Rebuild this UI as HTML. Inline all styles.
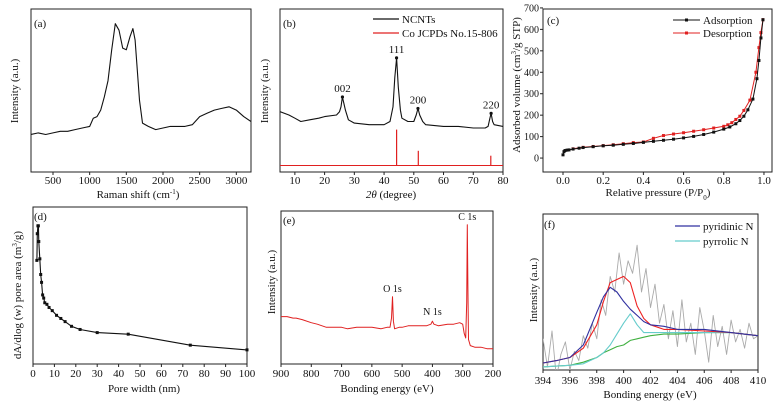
<!DOCTYPE html>
<html><head><meta charset="utf-8">
<style>
html,body{margin:0;padding:0;background:#fff;}
svg{display:block;font-family:"Liberation Serif",serif;}
</style></head>
<body>
<svg id="fig" width="777" height="401" viewBox="0 0 777 401" xmlns="http://www.w3.org/2000/svg"></svg>
<script>
// ---- data arrays ----
const ramanX=[200,300,400,500,600,700,800,900,1000,1050,1100,1150,1200,1250,1300,1350,1400,1450,1500,1550,1590,1620,1680,1720,1800,1900,2000,2100,2200,2300,2400,2500,2600,2700,2800,2900,3000,3100,3200];
const ramanY=[23,24,23,24,25,25,26,27,28,33,34,38,46,56,75,91,87,76,75,83,88,81,44,30,28,26,27,28,28,28,29,34,36,38,39,40,38,34,31];
const xrdX=[5,8,10,12,15,18,20,24,25,25.5,26,26.5,27,28,30,35,40,42,43,43.6,44.2,44.8,45.5,46,48,50,50.8,51.4,52,53,54,60,65,70,74,75,75.6,76,76.5,77,80];
const xrdY=[37,35,33,31,32,33,34,35,37,40,46,42,38,32,30,29,29,31,40,58,70,52,38,33,31,31,35,39,35,31,29,28,28,27,27,28,33,36,31,29,28];
const refX=[44.2,51.5,75.9];
const refY=[26,13,10];
const peakLabels=["002","111","200","220"];
const peakX=[26,44.2,51.4,76];
const peakY=[46,70,39,36];
const adsX=[0,0.005,0.01,0.02,0.03,0.05,0.08,0.1,0.15,0.2,0.25,0.3,0.35,0.4,0.45,0.5,0.55,0.6,0.65,0.7,0.75,0.8,0.83,0.86,0.88,0.9,0.92,0.945,0.965,0.975,0.985,0.995];
const adsY=[15,30,35,37,38,42,46,49,53,57,60,64,68,73,78,83,88,94,101,110,121,135,145,160,175,195,225,275,370,455,560,645];
const desX=[0.995,0.985,0.975,0.96,0.93,0.9,0.88,0.86,0.84,0.82,0.8,0.75,0.7,0.65,0.6,0.55,0.5,0.45,0.4,0.35,0.3,0.25,0.2,0.15,0.1,0.05];
const desY=[645,585,515,400,270,222,195,180,165,155,148,140,132,125,118,112,105,92,75,72,67,62,58,54,50,43];
const poreX=[1.8,2,2.3,2.5,2.7,3.2,3.6,4,4.5,5,5.5,6.5,7.5,9,11,13,15,18,22,30,44.5,73.5,100];
const poreY=[66,83,88,88,78,67,57,52,44,42,39,38,36,34,31,29,27,24,22,20,19,12,9];
const surveyX=[900,880,860,850,830,800,780,750,720,700,680,650,620,600,570,550,540,535,532,529,525,510,500,480,450,420,405,400,395,380,350,330,310,300,295,290,287,285,283,281,275,260,240,220,200];
const surveyY=[31,31,30,30,29,27,26,24,24,24,23,24,24,24,23,24,24,30,44,28,23,24,24,25,25,25,26,28,26,25,26,26,27,26,20,17,40,91,50,16,12,11,11,10,10];
const nX=[394,395,396,397,398,398.5,399,399.5,400,400.5,401,401.5,402,403,404,406,408,410];
const envY=[4.5,6,8,14,29,44,56,58,60,56,41,33,29,26,26,25,24,22];
const pyridY=[4.5,6,8,16,37,47,53,50,44,39,35,31,29,28,26,26,24,22];
const pyrrY=[2,2.5,3,4,8,11,16,23,30,36,29,24,24,24,24,24,24,22];
const bgY=[2,2.5,3,5,8,11,13,15,16,19,20,21,22,23,23,24,24,22];
const rawY=[20,2,25,-5,10,18,0,12,6,22,14,30,20,45,35,60,50,75,55,70,62,80,50,65,40,55,30,42,20,38,15,45,18,30,10,40,25,5,35,15,28,10,32,18,26,14,30,20,22];
const rawStart=394, rawStep=1/3;

// ---- helpers ----
const NS="http://www.w3.org/2000/svg";
const svg=document.getElementById('fig');
function el(tag,attrs,parent){const e=document.createElementNS(NS,tag);for(const k in attrs)e.setAttribute(k,attrs[k]);(parent||svg).appendChild(e);return e;}
function txt(str,x,y,size,anchor,parent,name){const t=el('text',{x:x,y:y,'font-size':size,'text-anchor':anchor||'middle',fill:'#111'},parent);t.textContent=str;


return t;}
function panel(name,b,xd,yd){
  const g=el('g',{});
  
  
  const sx=v=>b.x0+(v-xd[0])/(xd[1]-xd[0])*(b.x1-b.x0);
  const sy=v=>b.y1-(v-yd[0])/(yd[1]-yd[0])*(b.y1-b.y0);
  const cid='clip-'+name;
  const cp=el('clipPath',{id:cid},g);el('rect',{x:b.x0,y:b.y0,width:b.x1-b.x0,height:b.y1-b.y0},cp);
  const box=el('rect',{x:b.x0,y:b.y0,width:b.x1-b.x0,height:b.y1-b.y0,fill:'none',stroke:'#222','stroke-width':1},g);
  
  
  return {g,sx,sy,cid,b};
}
function line(P,xs,ys,color,w,name){
  const d=xs.map((x,i)=>(i?'L':'M')+P.sx(x).toFixed(1)+','+P.sy(ys[i]).toFixed(1)).join('');
  const p=el('path',{d:d,fill:'none',stroke:color,'stroke-width':w||1,'clip-path':'url(#'+P.cid+')','stroke-linejoin':'round'},P.g);
  
  
  return p;
}
function markers(P,xs,ys,color,name){
  xs.forEach((x,i)=>{const r=el('rect',{x:P.sx(x)-1.5,y:P.sy(ys[i])-1.5,width:3,height:3,fill:color},P.g);
  
  });
}
function xticks(P,vals,labels,ly,size){
  vals.forEach((v,i)=>{const x=P.sx(v);el('line',{x1:x,x2:x,y1:P.b.y1,y2:P.b.y1+3,stroke:'#222'},P.g);
  txt(labels[i],x,ly,size||11,'middle',P.g,'x-tick-label');});
}
function yticks(P,vals,labels,lx){
  vals.forEach((v,i)=>{const y=P.sy(v);el('line',{x1:P.b.x0-3,x2:P.b.x0,y1:y,y2:y,stroke:'#222'},P.g);
  txt(labels[i],lx,y+3.5,10,'end',P.g,'y-tick-label');});
}
function ylabel(P,str,x,cy,name){const t=txt(str,x,cy,11,'middle',P.g,name||'y-axis-title');t.setAttribute('transform','rotate(-90 '+x+' '+cy+')');return t;}

// ---- (a) Raman ----
let A=panel('panel-a-raman',{x0:31,x1:251,y0:9,y1:172},[200,3200],[0,100]);
line(A,ramanX,ramanY,'#111',1.1,'raman-spectrum');
xticks(A,[500,1000,1500,2000,2500,3000],['500','1000','1500','2000','2500','3000'],184);
txt('(a)',34,27,11,'start',A.g,'panel-label-a');
ylabel(A,'Intensity (a.u.)',18,91);
{const t=txt('Raman shift (cm',138,198,11,'middle',A.g,'x-axis-title');const s=el('tspan',{'baseline-shift':'super','font-size':7},t);s.textContent='-1';const s2=el('tspan',{},t);s2.textContent=')';}

// ---- (b) XRD ----
let B=panel('panel-b-xrd',{x0:280,x1:503,y0:9,y1:172},[5,80],[0,100]);
line(B,[5,80],[4,4],'#e02020',1,'reference-baseline');
refX.forEach((x,i)=>line(B,[x,x],[4,refY[i]],'#e02020',1.2,'reference-peak'));
line(B,xrdX,xrdY,'#111',1.1,'xrd-pattern');
peakX.forEach((x,i)=>{el('circle',{cx:B.sx(x),cy:B.sy(peakY[i]),r:1.6,fill:'#111'},B.g);txt(peakLabels[i],B.sx(x),B.sy(peakY[i])-5,11,'middle',B.g,'peak-label');});
xticks(B,[10,20,30,40,50,60,70,80],['10','20','30','40','50','60','70','80'],184);
txt('(b)',283,27,11,'start',B.g,'panel-label-b');
ylabel(B,'Intensity (a.u.)',268,91);
{const t=txt('',391,198,11,'middle',B.g,'x-axis-title');const s=el('tspan',{'font-style':'italic'},t);s.textContent='2θ';const s2=el('tspan',{},t);s2.textContent=' (degree)';}
el('line',{x1:373,x2:399,y1:19,y2:19,stroke:'#111','stroke-width':1.2},B.g);
txt('NCNTs',402,23,11,'start',B.g,'legend-ncnts');
el('line',{x1:373,x2:399,y1:33,y2:33,stroke:'#e02020','stroke-width':1.2},B.g);
txt('Co JCPDs No.15-806',402,37,11,'start',B.g,'legend-co-ref');

// ---- (c) BET isotherm ----
let C=panel('panel-c-isotherm',{x0:543,x1:772,y0:9,y1:172},[-0.0995,1.04],[-65,695]);
line(C,desX,desY,'#e02020',1,'desorption-line');
markers(C,desX,desY,'#e02020','desorption-point');
line(C,adsX,adsY,'#111',1,'adsorption-line');
markers(C,adsX,adsY,'#111','adsorption-point');
xticks(C,[0,0.2,0.4,0.6,0.8,1.0],['0.0','0.2','0.4','0.6','0.8','1.0'],184);
yticks(C,[0,100,200,300,400,500,600,700],['0','100','200','300','400','500','600','700'],539);
txt('(c)',547,24,11,'start',C.g,'panel-label-c');
{const t=txt('Adsorbed volume (cm',0,0,11,'middle',C.g,'y-axis-title');t.setAttribute('transform','translate(520,85) rotate(-90)');const s=el('tspan',{'baseline-shift':'super','font-size':7},t);s.textContent='3';const s2=el('tspan',{},t);s2.textContent='/g STP)';}
{const t=txt('Relative pressure (P/P',658,196,11,'middle',C.g,'x-axis-title');const s=el('tspan',{'baseline-shift':'sub','font-size':7},t);s.textContent='0';const s2=el('tspan',{},t);s2.textContent=')';}
el('line',{x1:673,x2:700,y1:20,y2:20,stroke:'#111'},C.g);el('rect',{x:685,y:18.5,width:3,height:3,fill:'#111'},C.g);
txt('Adsorption',703,24,11,'start',C.g,'legend-adsorption');
el('line',{x1:673,x2:700,y1:33,y2:33,stroke:'#e02020'},C.g);el('rect',{x:685,y:31.5,width:3,height:3,fill:'#e02020'},C.g);
txt('Desorption',703,37,11,'start',C.g,'legend-desorption');

// ---- (d) pore distribution ----
let D=panel('panel-d-pore',{x0:33,x1:247,y0:207,y1:364},[0,100],[0,100]);
line(D,poreX,poreY,'#111',1.1,'pore-line');
markers(D,poreX,poreY,'#111','pore-point');
xticks(D,[0,10,20,30,40,50,60,70,80,90,100],['0','10','20','30','40','50','60','70','80','90','100'],377);
txt('(d)',34,220,11,'start',D.g,'panel-label-d');
{const t=txt('dA/dlog (w) pore area (m',0,0,11,'middle',D.g,'y-axis-title');t.setAttribute('transform','translate(21,295) rotate(-90)');const s=el('tspan',{'baseline-shift':'super','font-size':7},t);s.textContent='3';const s2=el('tspan',{},t);s2.textContent='/g)';}
txt('Pore width (nm)',144,392,11,'middle',D.g,'x-axis-title');

// ---- (e) XPS survey ----
let E=panel('panel-e-survey',{x0:281,x1:493,y0:211,y1:364},[900,200],[0,100]);
line(E,surveyX,surveyY,'#e02020',1,'survey-spectrum');
xticks(E,[900,800,700,600,500,400,300,200],['900','800','700','600','500','400','300','200'],377);
txt('(e)',283,224,11,'start',E.g,'panel-label-e');
ylabel(E,'Intensity (a.u.)',275,282);
txt('Bonding energy (eV)',387,392,11,'middle',E.g,'x-axis-title');
txt('O 1s',E.sx(532),E.sy(47),10,'middle',E.g,'peak-o1s');
txt('N 1s',E.sx(400),E.sy(32),10,'middle',E.g,'peak-n1s');
txt('C 1s',E.sx(285),E.sy(94),10,'middle',E.g,'peak-c1s');

// ---- (f) N1s ----
let F=panel('panel-f-n1s',{x0:543,x1:758,y0:214,y1:370},[394,410],[0,100]);
line(F,rawY.map((v,i)=>rawStart+i*rawStep),rawY,'#aaaaaa',0.9,'raw-n1s');
line(F,nX,bgY,'#40b040',1.1,'background-line');
line(F,nX,pyrrY,'#66cccc',1.1,'pyrrolic-line');
line(F,nX,envY,'#ee2222',1.1,'envelope-line');
line(F,nX,pyridY,'#3030a0',1.1,'pyridinic-line');
xticks(F,[394,396,398,400,402,404,406,408,410],['394','396','398','400','402','404','406','408','410'],384);
txt('(f)',544,228,11,'start',F.g,'panel-label-f');
ylabel(F,'Intensity (a.u.)',537,290);
txt('Bonding energy (eV)',650,398,11,'middle',F.g,'x-axis-title');
el('line',{x1:675,x2:700,y1:226,y2:226,stroke:'#3030a0','stroke-width':1.2},F.g);
txt('pyridinic N',703,230,11,'start',F.g,'legend-pyridinic');
el('line',{x1:675,x2:700,y1:241,y2:241,stroke:'#66cccc','stroke-width':1.2},F.g);
txt('pyrrolic N',703,245,11,'start',F.g,'legend-pyrrolic');
</script>
</body></html>
